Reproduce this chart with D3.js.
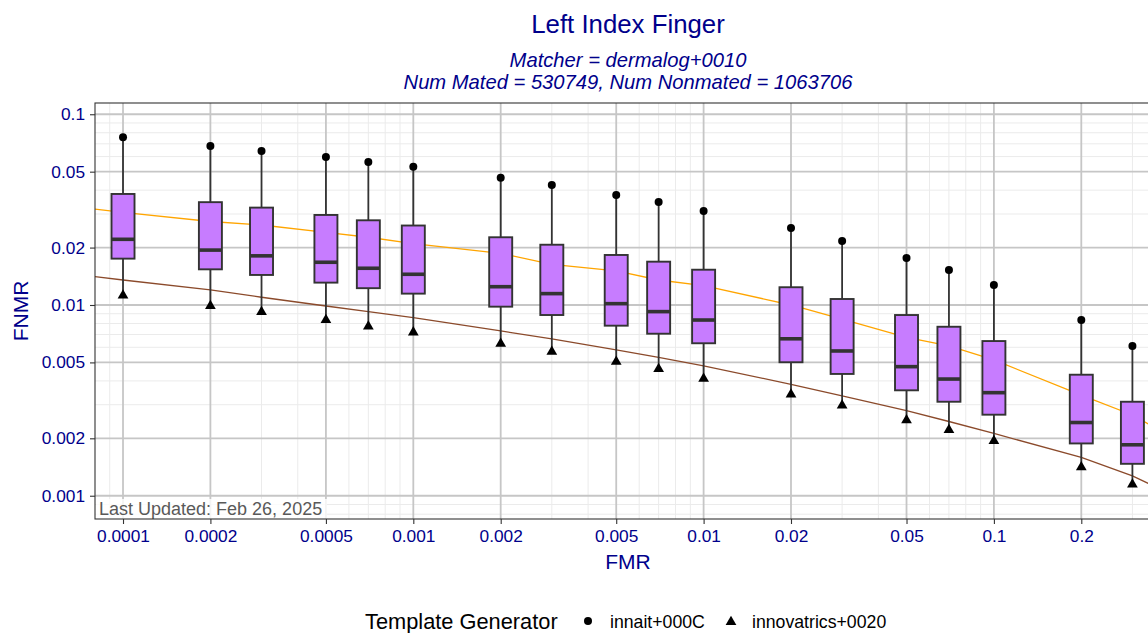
<!DOCTYPE html>
<html>
<head>
<meta charset="utf-8">
<script src="https://cdn.jsdelivr.net/npm/d3@7/dist/d3.min.js"></script>
<style>
    body { margin: 0; background: #fff; }
    text { font-family: "Liberation Sans", Arial, sans-serif; }
</style>
</head>
<body>
<div id="chart-area"></div>
<script>
// Box positions (FMR thresholds)
var fmrLevels = [0.0001, 0.0002, 0.0003, 0.0005, 0.0007, 0.001, 0.002, 0.003, 0.005,
    0.007, 0.01, 0.02, 0.03, 0.05, 0.07, 0.1, 0.2, 0.3];

// Box statistics (FNMR)
var boxQ3 = [0.0382, 0.0346, 0.0324, 0.02965, 0.0278, 0.0261, 0.02265, 0.0207, 0.01829,
    0.01687, 0.01531, 0.01239, 0.01075, 0.00886, 0.00769, 0.00647, 0.00431, 0.00311];
var boxMedian = [0.0221, 0.0194, 0.0181, 0.01675, 0.01558, 0.01449, 0.01247, 0.01147, 0.01016,
    0.00923, 0.00834, 0.00665, 0.00574, 0.00475, 0.00409, 0.00347, 0.00242, 0.00185];
var boxQ1 = [0.0175, 0.01538, 0.01437, 0.0131, 0.01225, 0.01147, 0.0098, 0.00886, 0.00779,
    0.00707, 0.0063, 0.00501, 0.00435, 0.00357, 0.00311, 0.00266, 0.00188, 0.00147];

// Template generator points
var innaitFnmr = [0.0757, 0.0682, 0.0642, 0.0597, 0.0562, 0.0531, 0.0465, 0.0426, 0.03775,
    0.0347, 0.0311, 0.02535, 0.02168, 0.01764, 0.01526, 0.01273, 0.00834, 0.0061];
var innovatricsFnmr = [0.01137, 0.0100, 0.0093, 0.00845, 0.00782, 0.00728, 0.00634, 0.00576, 0.0051,
    0.00468, 0.00416, 0.00344, 0.00301, 0.00252, 0.00224, 0.00196, 0.00143, 0.00116];

// DET curves
var curveFmr = [0.00008, 0.0001, 0.0002, 0.0003, 0.0005, 0.0007, 0.001, 0.002, 0.003, 0.005,
    0.007, 0.01, 0.02, 0.03, 0.05, 0.07, 0.1, 0.2, 0.3, 0.34, 0.38];
var orangeFnmr = [0.0318, 0.0306, 0.0274, 0.02627, 0.0240, 0.02265, 0.0210, 0.01866, 0.01634, 0.0151,
    0.01352, 0.01262, 0.0100, 0.00843, 0.00676, 0.0061, 0.00515, 0.00337, 0.00265, 0.00238, 0.0022];
var brownFnmr = [0.01407, 0.01352, 0.01199, 0.01098, 0.00988, 0.00922, 0.00858, 0.00731, 0.00664, 0.00581,
    0.00532, 0.00479, 0.00384, 0.00334, 0.00279, 0.00245, 0.00212, 0.00159, 0.00127, 0.00116, 0.00107];

// Axis ticks
var xTickValues = [0.0001, 0.0002, 0.0005, 0.001, 0.002, 0.005, 0.01, 0.02, 0.05, 0.1, 0.2];
var yTickValues = [0.001, 0.002, 0.005, 0.01, 0.02, 0.05, 0.1];

var legendLabels = ["innait+000C", "innovatrics+0020"];

var width = 1148, height = 633;
var panel = { left: 95, right: 1161, top: 103, bottom: 519 };
var blue = "#00008B";

var svg = d3.select("#chart-area")
    .append("svg")
    .attr("width", width)
    .attr("height", height);

svg.append("rect")
    .attr("width", width)
    .attr("height", height)
    .attr("fill", "#fff");

// Scales
var x = d3.scaleLog()
    .domain([Math.pow(10, -4.0965), Math.pow(10, -0.4244)])
    .range([panel.left, panel.right]);
var y = d3.scaleLog()
    .domain([Math.pow(10, -3.122), Math.pow(10, -0.941)])
    .range([panel.bottom, panel.top]);

// Minor grid values: every k * 10^e not already a major tick
function minorValues(domain, majors) {
    var out = [];
    for (var e = -6; e <= 1; e++) {
        for (var k = 1; k <= 9; k++) {
            var v = +(k * Math.pow(10, e)).toPrecision(6);
            if (v >= domain[0] && v <= domain[1] && majors.indexOf(v) < 0) out.push(v);
        }
    }
    return out;
}
var xMinor = minorValues(x.domain(), xTickValues);
var yMinor = minorValues(y.domain(), yTickValues);

svg.append("defs").append("clipPath")
    .attr("id", "panel-clip")
    .append("rect")
    .attr("x", panel.left)
    .attr("y", panel.top)
    .attr("width", panel.right - panel.left)
    .attr("height", panel.bottom - panel.top);

var g = svg.append("g").attr("clip-path", "url(#panel-clip)");

// Grid lines
g.selectAll(".x-minor").data(xMinor).enter().append("line")
    .attr("x1", function(d){ return x(d); }).attr("x2", function(d){ return x(d); })
    .attr("y1", panel.top).attr("y2", panel.bottom)
    .attr("stroke", "#ebebeb").attr("stroke-width", 1);
g.selectAll(".y-minor").data(yMinor).enter().append("line")
    .attr("y1", function(d){ return y(d); }).attr("y2", function(d){ return y(d); })
    .attr("x1", panel.left).attr("x2", panel.right)
    .attr("stroke", "#ebebeb").attr("stroke-width", 1);
g.selectAll(".x-major").data(xTickValues).enter().append("line")
    .attr("x1", function(d){ return x(d); }).attr("x2", function(d){ return x(d); })
    .attr("y1", panel.top).attr("y2", panel.bottom)
    .attr("stroke", "#c6c6c6").attr("stroke-width", 1.8);
g.selectAll(".y-major").data(yTickValues).enter().append("line")
    .attr("y1", function(d){ return y(d); }).attr("y2", function(d){ return y(d); })
    .attr("x1", panel.left).attr("x2", panel.right)
    .attr("stroke", "#c6c6c6").attr("stroke-width", 1.8);

// DET curves
var line = d3.line()
    .x(function(d){ return x(d[0]); })
    .y(function(d){ return y(d[1]); });
g.append("path")
    .attr("fill", "none")
    .attr("stroke", "#FFA500")
    .attr("stroke-width", 1.3)
    .attr("d", line(d3.zip(curveFmr, orangeFnmr)));
g.append("path")
    .attr("fill", "none")
    .attr("stroke", "#8B4A2B")
    .attr("stroke-width", 1.3)
    .attr("d", line(d3.zip(curveFmr, brownFnmr)));

// Boxplots
var boxW = 23;
var boxes = fmrLevels.map(function(f, i){
    return { fmr: f, q1: boxQ1[i], med: boxMedian[i], q3: boxQ3[i],
        hi: innaitFnmr[i], lo: innovatricsFnmr[i] };
});
var box = g.selectAll(".box").data(boxes).enter().append("g").attr("class", "box");
box.append("line")
    .attr("x1", function(d){ return x(d.fmr); }).attr("x2", function(d){ return x(d.fmr); })
    .attr("y1", function(d){ return y(d.hi); }).attr("y2", function(d){ return y(d.q3); })
    .attr("stroke", "#333").attr("stroke-width", 1.8);
box.append("line")
    .attr("x1", function(d){ return x(d.fmr); }).attr("x2", function(d){ return x(d.fmr); })
    .attr("y1", function(d){ return y(d.q1); }).attr("y2", function(d){ return y(d.lo); })
    .attr("stroke", "#333").attr("stroke-width", 1.8);
box.append("rect")
    .attr("x", function(d){ return x(d.fmr) - boxW / 2; })
    .attr("width", boxW)
    .attr("y", function(d){ return y(d.q3); })
    .attr("height", function(d){ return y(d.q1) - y(d.q3); })
    .attr("fill", "#C77CFF")
    .attr("stroke", "#333")
    .attr("stroke-width", 1.9);
box.append("line")
    .attr("x1", function(d){ return x(d.fmr) - boxW / 2; })
    .attr("x2", function(d){ return x(d.fmr) + boxW / 2; })
    .attr("y1", function(d){ return y(d.med); }).attr("y2", function(d){ return y(d.med); })
    .attr("stroke", "#333").attr("stroke-width", 3.6);

// Points
var triangle = d3.symbol().type(d3.symbolTriangle).size(50);
box.append("circle")
    .attr("cx", function(d){ return x(d.fmr); })
    .attr("cy", function(d){ return y(d.hi); })
    .attr("r", 4)
    .attr("fill", "#000");
box.append("path")
    .attr("d", triangle)
    .attr("transform", function(d){ return "translate(" + x(d.fmr) + "," + (y(d.lo) + 1) + ")"; })
    .attr("fill", "#000");

// Last updated label
g.append("rect")
    .attr("x", panel.left + 1).attr("y", 499)
    .attr("width", 231).attr("height", 20)
    .attr("fill", "#fff").attr("fill-opacity", 0.8);
g.append("text")
    .attr("x", 99).attr("y", 515)
    .attr("font-size", "18px")
    .attr("fill", "#595959")
    .text("Last Updated: Feb 26, 2025");

// Panel border
svg.append("rect")
    .attr("x", panel.left).attr("y", panel.top)
    .attr("width", panel.right - panel.left)
    .attr("height", panel.bottom - panel.top)
    .attr("fill", "none")
    .attr("stroke", "#333")
    .attr("stroke-width", 1.1);

// X-axis
var xAxis = svg.append("g")
    .attr("transform", "translate(0," + panel.bottom + ")")
    .call(d3.axisBottom(x).tickValues(xTickValues).tickFormat(function(d){ return String(d); })
        .tickSize(5).tickPadding(6));
xAxis.select(".domain").remove();
xAxis.selectAll("line").attr("stroke", "#333").attr("stroke-width", 1.1);
xAxis.selectAll("text").attr("fill", blue).attr("font-size", "17.3px")
    .attr("font-family", "Liberation Sans, Arial, sans-serif");

// Y-axis
var yAxis = svg.append("g")
    .attr("transform", "translate(" + panel.left + ",0)")
    .call(d3.axisLeft(y).tickValues(yTickValues).tickFormat(function(d){ return String(d); })
        .tickSize(5).tickPadding(5));
yAxis.select(".domain").remove();
yAxis.selectAll("line").attr("stroke", "#333").attr("stroke-width", 1.1);
yAxis.selectAll("text").attr("fill", blue).attr("font-size", "17.3px")
    .attr("font-family", "Liberation Sans, Arial, sans-serif");

// Titles
svg.append("text")
    .attr("x", 628).attr("y", 33)
    .attr("text-anchor", "middle")
    .attr("font-size", "25.8px")
    .attr("fill", blue)
    .text("Left Index Finger");
svg.append("text")
    .attr("x", 628).attr("y", 67)
    .attr("text-anchor", "middle")
    .attr("font-size", "20.2px")
    .attr("font-style", "italic")
    .attr("fill", blue)
    .text("Matcher = dermalog+0010");
svg.append("text")
    .attr("x", 628).attr("y", 89)
    .attr("text-anchor", "middle")
    .attr("font-size", "20.2px")
    .attr("font-style", "italic")
    .attr("fill", blue)
    .text("Num Mated = 530749, Num Nonmated = 1063706");

// Axis labels
svg.append("text")
    .attr("x", 628).attr("y", 569)
    .attr("text-anchor", "middle")
    .attr("font-size", "21px")
    .attr("fill", blue)
    .text("FMR");
svg.append("text")
    .attr("transform", "translate(28," + ((panel.top + panel.bottom) / 2) + ") rotate(-90)")
    .attr("text-anchor", "middle")
    .attr("font-size", "21px")
    .attr("fill", blue)
    .text("FNMR");

// Legend
var legend = svg.append("g");
legend.append("text")
    .attr("x", 365).attr("y", 629)
    .attr("font-size", "21.8px")
    .attr("fill", "#000")
    .text("Template Generator");
legend.append("circle")
    .attr("cx", 588).attr("cy", 621).attr("r", 4).attr("fill", "#000");
legend.append("text")
    .attr("x", 610).attr("y", 628)
    .attr("font-size", "17.7px")
    .text(legendLabels[0]);
legend.append("path")
    .attr("d", triangle)
    .attr("transform", "translate(731,622)")
    .attr("fill", "#000");
legend.append("text")
    .attr("x", 752).attr("y", 628)
    .attr("font-size", "17.7px")
    .text(legendLabels[1]);
</script>
</body>
</html>
